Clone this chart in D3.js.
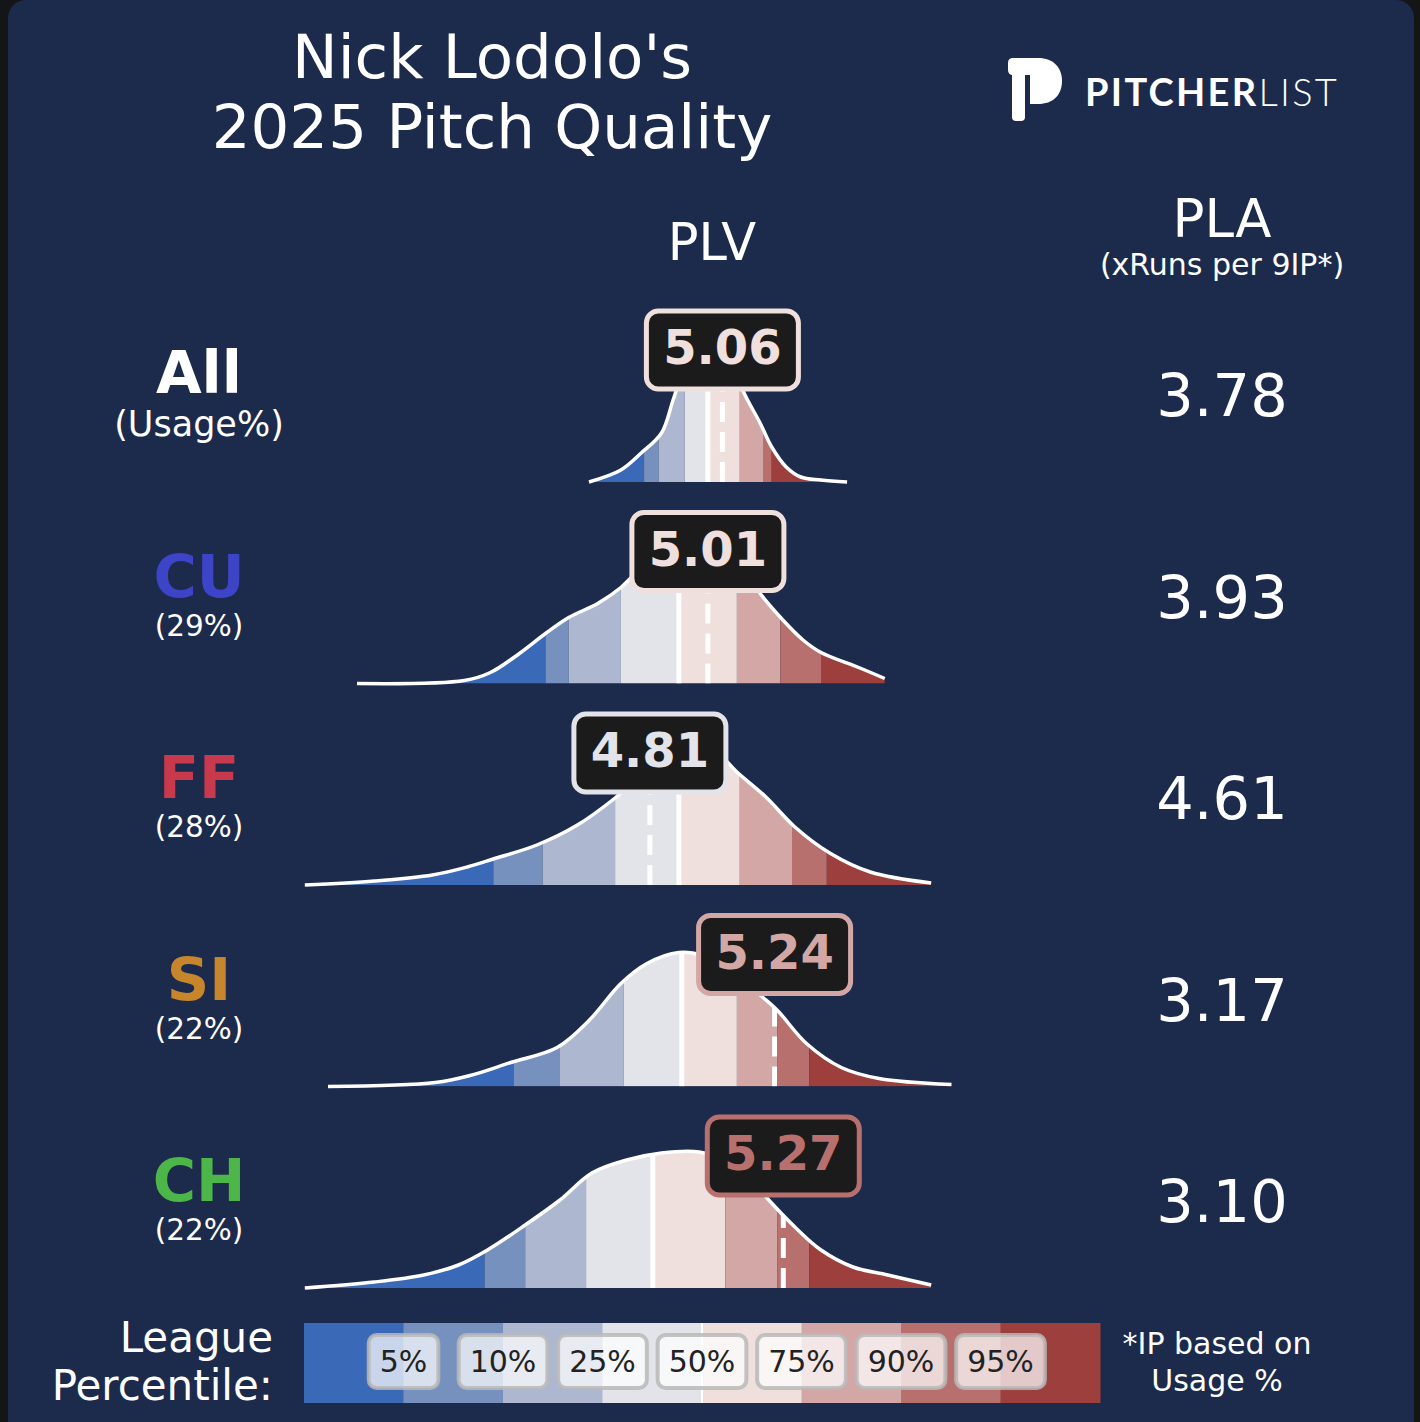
<!DOCTYPE html>
<html>
<head>
<meta charset="utf-8">
<script src="https://cdn.jsdelivr.net/npm/d3@7"></script>
<style>
  body { margin: 0; background: #141517; }
  svg { display: block; }
  text { font-family: "DejaVu Sans", sans-serif; }
</style>
</head>
<body>
<div id="chart"></div>
<script>
// ---- data ----
var pitches = ["All", "CU", "FF", "SI", "CH"];
var pitchColors = ["#ffffff", "#3d44c8", "#c9394e", "#c7852c", "#4db648"];
var usageLabels = ["(Usage%)", "(29%)", "(28%)", "(22%)", "(22%)"];
var plvValues = [5.06, 5.01, 4.81, 5.24, 5.27];
var plaValues = ["3.78", "3.93", "4.61", "3.17", "3.10"];

var percentileLabels = ["5%", "10%", "25%", "50%", "75%", "90%", "95%"];
var bandColors = ["#3a69b7", "#7691bd", "#adb8d0", "#e3e4ea", "#efdfdd", "#d3a7a5", "#b7706d", "#9c3f3d"];

// league PLV cut points per pitch type (5,10,25,50,75,90,95th pct)
var cutsAll = [4.79, 4.84, 4.93, 5.01, 5.12, 5.20, 5.23];
var cutsCU  = [4.45, 4.53, 4.71, 4.91, 5.11, 5.26, 5.40];
var cutsFF  = [4.27, 4.44, 4.69, 4.91, 5.12, 5.30, 5.42];
var cutsSI  = [4.34, 4.50, 4.72, 4.92, 5.11, 5.25, 5.36];
var cutsCH  = [4.24, 4.38, 4.59, 4.82, 5.07, 5.25, 5.36];

// league PLV density curves: [PLV, density]
var densAll = [[4.60,0],[4.71,0.12],[4.78,0.29],[4.85,0.49],[4.89,0.82],[4.93,1.15],[4.98,1.40],
  [5.03,1.43],[5.09,1.28],[5.13,0.92],[5.19,0.59],[5.23,0.35],[5.28,0.15],[5.33,0.05],[5.40,0.02],[5.49,0]];
var densCU = [[3.80,0],[4.17,0.03],[4.26,0.11],[4.36,0.30],[4.45,0.50],[4.53,0.66],[4.63,0.80],
  [4.71,0.96],[4.76,1.10],[4.85,1.30],[4.95,1.42],[5.05,1.35],[5.14,1.12],[5.19,0.90],[5.27,0.63],
  [5.34,0.43],[5.40,0.31],[5.53,0.16],[5.62,0.05]];
var densFF = [[3.62,0],[3.86,0.04],[4.06,0.10],[4.18,0.18],[4.27,0.26],[4.42,0.40],[4.56,0.60],
  [4.69,0.87],[4.78,1.10],[4.88,1.30],[4.98,1.38],[5.05,1.30],[5.11,1.13],[5.21,0.88],[5.31,0.58],
  [5.43,0.32],[5.57,0.13],[5.78,0.02]];
var densSI = [[3.70,0],[4.07,0.04],[4.19,0.11],[4.33,0.24],[4.49,0.39],[4.60,0.66],[4.71,1.03],
  [4.80,1.23],[4.91,1.34],[4.99,1.31],[5.09,1.15],[5.20,0.89],[5.25,0.76],[5.35,0.43],[5.47,0.19],
  [5.60,0.08],[5.85,0.02]];
var densCH = [[3.62,0],[3.86,0.06],[4.03,0.13],[4.15,0.23],[4.25,0.38],[4.38,0.63],[4.50,0.88],
  [4.61,1.15],[4.73,1.28],[4.85,1.35],[4.98,1.36],[5.09,1.25],[5.17,1.05],[5.22,0.88],[5.31,0.61],
  [5.40,0.38],[5.51,0.21],[5.63,0.13],[5.78,0.03]];

var leagueCuts = [cutsAll, cutsCU, cutsFF, cutsSI, cutsCH];
var leagueDens = [densAll, densCU, densFF, densSI, densCH];

// ---- layout ----
var width = 1420, height = 1422;

var svg = d3.select("#chart").append("svg")
    .attr("width", width)
    .attr("height", height);

// panel
svg.append("rect")
    .attr("x", 8).attr("y", 0)
    .attr("width", 1406).attr("height", height + 40)
    .attr("rx", 18)
    .attr("fill", "#1c2a4c");

//Shared PLV scale for all rows
var x = d3.scaleLinear().domain([4, 6]).range([415, 995]);
var yH = d3.scaleLinear().domain([0, 1]).range([0, 100]);
var rowY = d3.scalePoint().domain(pitches).range([482, 1288]);

// title
var title = svg.append("text")
    .attr("text-anchor", "middle")
    .attr("fill", "#fff")
    .style("font-size", "61px");
title.append("tspan").attr("x", 492).attr("y", 78).text("Nick Lodolo's");
title.append("tspan").attr("x", 492).attr("y", 148).text("2025 Pitch Quality");

// logo
var logo = svg.append("g").attr("fill", "#fff");
logo.append("rect")
    .attr("x", 1012).attr("y", 68).attr("width", 13).attr("height", 53).attr("rx", 4);
logo.append("path")
    .attr("d", "M1008,63 Q1008,58 1013,58 L1038,58 C1054,58 1062,68 1062,81 C1062,95 1053,104 1038,104 L1030,104 L1030,75 L1013,75 Q1008,75 1008,70 Z");
var logoText = logo.append("text")
    .attr("x", 1085).attr("y", 106)
    .style("font-family", "Lato, 'Open Sans', sans-serif")
    .style("font-size", "38px")
    .style("letter-spacing", "2.3px");
logoText.append("tspan").style("font-weight", 700).text("PITCHER");
logoText.append("tspan").style("font-weight", 300).text("LIST");

// column headers
svg.append("text")
    .attr("x", 712).attr("y", 260)
    .attr("text-anchor", "middle").attr("fill", "#fff")
    .style("font-size", "51px")
    .text("PLV");

svg.append("text")
    .attr("x", 1222).attr("y", 237)
    .attr("text-anchor", "middle").attr("fill", "#fff")
    .style("font-size", "53px")
    .text("PLA");

svg.append("text")
    .attr("x", 1222).attr("y", 275)
    .attr("text-anchor", "middle").attr("fill", "#fff")
    .style("font-size", "30px")
    .text("(xRuns per 9IP*)");

var area = d3.area()
    .x(function (d) { return x(d[0]); })
    .y0(0)
    .y1(function (d) { return -yH(d[1]); })
    .curve(d3.curveCatmullRom.alpha(0.5));

var line = d3.line()
    .x(function (d) { return x(d[0]); })
    .y(function (d) { return -yH(d[1]); })
    .curve(d3.curveCatmullRom.alpha(0.5));

var defs = svg.append("defs");

pitches.forEach(function (p, i) {
    var base = rowY(p);
    var cuts = leagueCuts[i];
    var dens = leagueDens[i];
    var g = svg.append("g").attr("transform", "translate(0," + base + ")");

    // row labels
    g.append("text")
        .attr("x", 199).attr("y", i == 0 ? -89 : -87)
        .attr("text-anchor", "middle")
        .attr("fill", pitchColors[i])
        .style("font-size", "59px").style("font-weight", "bold")
        .text(p);
    g.append("text")
        .attr("x", 199).attr("y", i == 0 ? -46 : -48)
        .attr("text-anchor", "middle")
        .attr("fill", "#fff")
        .style("font-size", i == 0 ? "35px" : "29.5px")
        .text(usageLabels[i]);

    // PLA
    g.append("text")
        .attr("x", 1222).attr("y", -66)
        .attr("text-anchor", "middle")
        .attr("fill", "#fff")
        .style("font-size", "59px")
        .text(plaValues[i]);

    // clip to density
    defs.append("clipPath").attr("id", "clip-" + p)
        .append("path").attr("d", area(dens));

    var edges = [dens[0][0]].concat(cuts, [dens[dens.length - 1][0]]);
    var clipped = g.append("g").attr("clip-path", "url(#clip-" + p + ")");

    clipped.selectAll("rect")
        .data(bandColors)
        .enter()
        .append("rect")
        .attr("x", function (d, j) { return x(edges[j]); })
        .attr("width", function (d, j) { return x(edges[j + 1]) - x(edges[j]); })
        .attr("y", -200)
        .attr("height", 200)
        .attr("fill", function (d) { return d; });

    // league median
    clipped.append("line")
        .attr("x1", x(cuts[3])).attr("x2", x(cuts[3]))
        .attr("y1", 0).attr("y2", -200)
        .attr("stroke", "#fff").attr("stroke-width", 5);

    // pitcher value
    clipped.append("line")
        .attr("x1", x(plvValues[i])).attr("x2", x(plvValues[i]))
        .attr("y1", 0).attr("y2", -200)
        .attr("stroke", "#fff").attr("stroke-width", 5)
        .attr("stroke-dasharray", "20,10");

    g.append("path")
        .attr("d", line(dens))
        .attr("fill", "none")
        .attr("stroke", "#fff")
        .attr("stroke-width", 3.5);

    // value box coloured by league band
    var c = bandColors[d3.bisect(cuts, plvValues[i])];
    var cx = x(plvValues[i]);
    g.append("rect")
        .attr("x", cx - 76).attr("y", -171)
        .attr("width", 152).attr("height", 78)
        .attr("rx", 12)
        .attr("fill", "#1b1b1b")
        .attr("stroke", c).attr("stroke-width", 5);
    g.append("text")
        .attr("x", cx).attr("y", -118)
        .attr("text-anchor", "middle")
        .attr("fill", c)
        .style("font-size", "48px").style("font-weight", "bold")
        .text(plvValues[i].toFixed(2));
});

// ---- legend ----
var lx = d3.scaleLinear().domain([0, bandColors.length]).range([304, 1100]);

svg.selectAll(".legendBand")
    .data(bandColors)
    .enter()
    .append("rect")
    .attr("class", "legendBand")
    .attr("x", function (d, j) { return lx(j); })
    .attr("width", lx(1) - lx(0) + 0.5)
    .attr("y", 1323).attr("height", 80)
    .attr("fill", function (d) { return d; });

svg.append("line")
    .attr("x1", lx(4)).attr("x2", lx(4))
    .attr("y1", 1323).attr("y2", 1403)
    .attr("stroke", "#fff").attr("stroke-width", 2);

var tags = svg.selectAll(".tag")
    .data(percentileLabels)
    .enter()
    .append("g")
    .attr("class", "tag")
    .attr("transform", function (d, j) { return "translate(" + lx(j + 1) + ",0)"; });

var tagBox = tags.append("rect")
    .attr("y", 1335).attr("height", 53)
    .attr("rx", 8)
    .attr("fill", "rgba(255,255,255,0.72)")
    .attr("stroke", "rgba(185,185,185,0.85)")
    .attr("stroke-width", 4);

var tagText = tags.append("text")
    .attr("x", 0).attr("y", 1372)
    .attr("text-anchor", "middle")
    .attr("fill", "#222")
    .style("font-size", "30px")
    .text(function (d) { return d; });

tagText.each(function (d, j) {
    var w = this.getComputedTextLength() + 22;
    d3.select(tagBox.nodes()[j]).attr("x", -w / 2).attr("width", w);
});

var lt = svg.append("text")
    .attr("text-anchor", "end")
    .attr("fill", "#fff")
    .style("font-size", "42px");
lt.append("tspan").attr("x", 273).attr("y", 1352).text("League");
lt.append("tspan").attr("x", 273).attr("y", 1400).text("Percentile:");

var note = svg.append("text")
    .attr("text-anchor", "middle")
    .attr("fill", "#fff")
    .style("font-size", "30px");
note.append("tspan").attr("x", 1217).attr("y", 1354).text("*IP based on");
note.append("tspan").attr("x", 1217).attr("y", 1391).text("Usage %");
</script>
</body>
</html>
